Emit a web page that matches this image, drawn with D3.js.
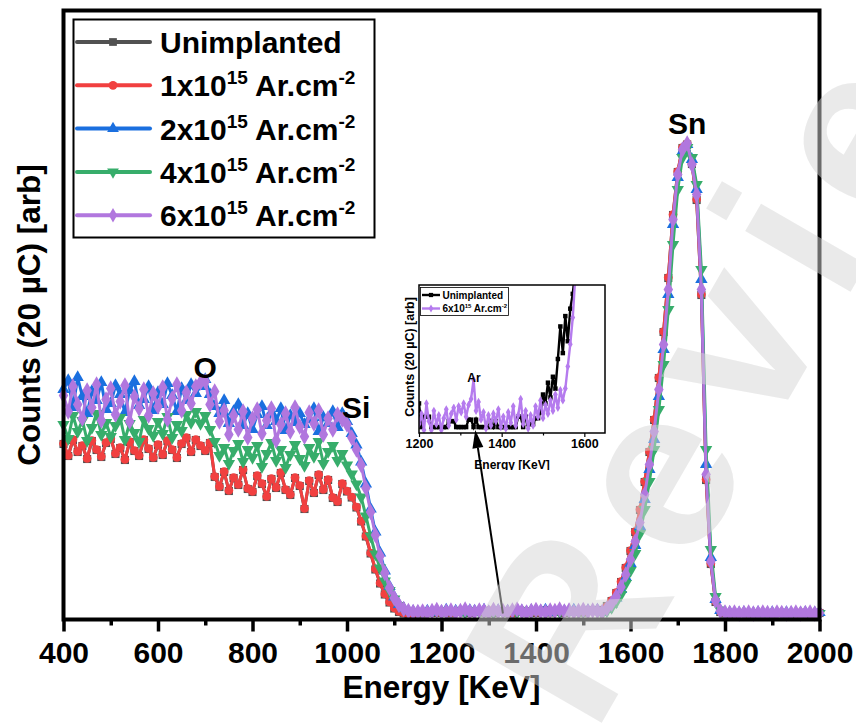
<!DOCTYPE html>
<html>
<head>
<meta charset="utf-8">
<script src="https://cdn.jsdelivr.net/npm/d3@7/dist/d3.min.js"></script>
<style>
  body { margin: 0; background: #fff; }
  svg { display: block; }
  text { font-family: "Liberation Sans", Arial, Helvetica, sans-serif; font-weight: bold; white-space: pre; }
</style>
</head>
<body>
<svg id="chart" width="856" height="726"></svg>
<script>
// RBS spectra, one channel every 10 keV from 400 to 2000 keV (counts, arbitrary units)
const energy = d3.range(400, 2001, 10);

const unimplanted = [
  1755,1635,1795,1675,1735,1605,1785,1695,1625,1765,
  1805,1655,1715,1595,1775,1685,1635,1795,1705,1615,
  1745,1645,1785,1695,1615,1755,1815,1675,1795,1735,
  1685,1765,1425,1325,1475,1285,1415,1345,1495,1305,
  1275,1435,1355,1225,1405,1315,1465,1295,1245,1415,
  1335,1105,1385,1265,1445,1295,1395,1215,1175,1355,
  1280,1220,1120,980,830,660,500,360,250,170,
  110,75,60,55,55,60,
  60,70,75,65,80,70,60,75,85,70,
  65,80,75,70,85,65,75,80,70,60,
  75,85,70,80,65,75,90,70,80,75,
  65,85,80,75,70,90,85,95,
  95,135,185,265,375,515,685,875,1095,1375,
  1675,1995,2415,2875,3415,4045,4475,4715,4750,4555,
  4195,3245,1395,555,175,75,60,
  60,60,65,65,60,60,60,65,60,60,
  65,65,60,60,60,65,60,60,65,65
];

const dose1 = [
  1760,1640,1800,1680,1740,1610,1790,1700,1630,1770,
  1810,1660,1720,1600,1780,1690,1640,1800,1710,1620,
  1750,1650,1790,1700,1620,1760,1820,1680,1800,1740,
  1690,1770,1430,1330,1480,1290,1420,1350,1500,1310,
  1280,1440,1360,1230,1410,1320,1470,1300,1250,1420,
  1340,1110,1390,1270,1450,1300,1400,1220,1180,1360,
  1285,1225,1125,985,835,665,505,365,255,175,
  115,80,65,60,60,65,
  65,75,80,70,85,75,65,80,90,75,
  70,85,80,75,90,70,80,85,75,65,
  80,90,75,85,70,80,95,75,85,80,
  70,90,85,80,75,95,85,90,
  90,130,190,270,380,520,690,880,1100,1380,
  1680,2000,2420,2880,3420,4050,4480,4720,4760,4560,
  4200,3250,1400,560,180,80,65,
  65,60,65,70,60,65,60,70,65,60,
  65,70,60,65,60,70,65,60,65,70
];

const dose2 = [
  2300,2390,2120,2420,2230,2060,2280,2190,2370,2100,
  2160,2340,2250,2070,2290,2380,2140,2200,2330,2090,
  2270,2150,2360,2240,2080,2310,2190,2350,2260,2330,
  2400,2250,2130,2060,2190,1960,2080,2150,1940,2060,
  1900,2050,2130,1940,2070,1980,2110,1890,2040,1970,
  2060,1950,2000,2110,1880,2020,1960,2080,1920,2060,
  1980,1860,1745,1575,1355,1105,875,665,485,330,
  225,150,110,85,80,75,
  75,85,70,90,80,95,75,85,80,70,
  90,85,80,95,75,80,90,70,85,80,
  95,85,75,90,80,85,95,70,80,90,
  85,75,95,80,85,90,80,95,
  70,100,150,215,300,420,560,740,930,1200,
  1500,1800,2230,2700,3250,3950,4420,4680,4750,4600,
  4300,3400,1550,620,200,90,70,
  70,60,65,70,60,65,70,60,65,70,
  60,65,70,65,60,65,70,60,65,70
];

const dose4 = [
  1950,1810,2040,1880,1990,1790,1920,2060,1850,1970,
  1830,1940,2020,1800,1960,1870,1780,2000,1910,1840,
  1980,1860,2030,1820,1950,1890,2050,1970,2080,1960,
  2040,1900,1780,1640,1720,1560,1690,1760,1580,1700,
  1620,1740,1530,1660,1770,1590,1700,1520,1650,1750,
  1610,1540,1720,1630,1780,1560,1680,1740,1590,1660,
  1545,1455,1355,1225,1035,835,655,515,385,290,
  205,140,100,85,75,70,
  70,80,75,85,70,90,80,75,85,70,
  80,90,75,80,85,70,90,75,80,85,
  70,80,90,75,85,80,70,90,80,75,
  85,80,90,75,80,85,90,80,
  60,85,120,175,250,360,490,660,860,1100,
  1380,1700,2100,2550,3100,3750,4300,4620,4720,4620,
  4350,3500,1700,700,230,95,70,
  60,65,70,60,65,60,70,65,60,65,
  70,60,65,60,70,65,60,65,70,60
];

const dose6 = [
  2240,2080,2330,2150,2010,2290,2120,2350,1990,2200,
  2310,2050,2180,2340,1980,2230,2110,2300,2040,2260,
  2130,2320,2000,2210,2350,2090,2270,2160,2330,2370,
  2380,2150,2280,1980,2090,1850,2040,1900,2080,1820,
  2010,2100,1860,1990,2110,1790,1950,2060,1880,2120,
  1930,1830,2070,1960,2090,1850,2010,1900,2050,2000,
  1950,1820,1700,1545,1315,1075,845,635,465,315,
  215,145,105,85,75,75,
  80,70,85,95,75,80,90,70,85,100,
  80,75,90,85,70,95,80,85,75,90,
  100,80,70,85,95,80,75,90,85,100,
  80,90,75,85,95,80,90,85,
  75,110,160,230,325,450,600,780,970,1250,
  1550,1880,2300,2750,3300,4000,4450,4700,4760,4550,
  4250,3300,1450,580,190,85,70,
  65,70,60,65,70,60,65,70,65,60,
  70,65,60,65,70,60,65,70,60,65
];

const seriesNames = ["Unimplanted", "1x10", "2x10", "4x10", "6x10"];
const seriesColors = ["#515151", "#F14040", "#1A6FDF", "#37AD6B", "#B177DE"];
const seriesSymbols = [d3.symbolSquare, d3.symbolCircle, d3.symbolTriangle, "triangleDown", d3.symbolDiamond];
const seriesValues = [unimplanted, dose1, dose2, dose4, dose6];

// Inset: zoom on the Ar region, one channel every 6 keV
const insetEnergy = d3.range(1200, 1585, 6);
const insetUnimplanted = [
  2.0,0.4,1.1,1.1,1.1,0.4,0.4,0.4,0.4,0.4,
  0.4,0.4,0.8,0.8,0.8,0.4,0.4,0.4,0.4,0.4,
  0.9,0.9,0.4,0.9,0.4,0.4,0.4,0.4,0.4,0.8,
  0.4,0.8,0.4,0.4,0.4,0.4,0.4,0.4,0.4,0.4,
  1.1,1.1,0.4,1.1,0.6,0.6,0.6,1.0,1.0,1.4,
  2.6,2.0,3.4,2.4,3.8,3.0,5.0,7.2,5.4,7.9,
  6.2,8.4,9.4,11.0,12.5
];
const insetDose6 = [
  0.6,1.3,0.2,2.0,0.8,0.2,1.5,0.6,1.2,0.2,
  1.0,1.6,0.5,1.3,1.7,0.9,1.8,1.4,2.0,1.1,
  1.9,2.3,3.6,1.5,2.1,0.9,1.4,0.3,1.2,0.5,
  1.3,0.8,1.6,0.4,1.1,0.3,1.4,0.7,1.8,0.5,
  1.2,2.3,0.6,1.5,0.3,1.2,0.5,1.8,1.1,2.2,
  1.0,1.9,1.3,2.2,1.5,2.6,1.7,2.9,2.2,3.0,
  4.5,6.0,7.8,10.5,12.5
];

const xTicks = [400, 600, 800, 1000, 1200, 1400, 1600, 1800, 2000];
const xMinorTicks = [500, 700, 900, 1100, 1300, 1500, 1700, 1900];
const insetTicks = [1200, 1400, 1600];
const insetMinorTicks = [1300, 1500];

const peaks = [
  { label: "O", energy: 700, counts: 2400 },
  { label: "Si", energy: 990, counts: 2000 },
  { label: "Sn", energy: 1720, counts: 4840 }
];

const svg = d3.select("#chart");
const x = d3.scaleLinear().domain([400, 2000]).range([63.5, 819.5]);
const y = d3.scaleLinear().domain([0, 6090]).range([619.5, 10.5]);

function symbolPath(sym, size) {
  return d3.symbol(sym === "triangleDown" ? d3.symbolTriangle : sym, size)();
}
function symbolTransform(sym) {
  return sym === "triangleDown" ? " rotate(180)" : "";
}

// Spectra: each series draws its line, then its symbols
const plot = svg.append("g");
seriesValues.forEach((vals, i) => {
  const pts = energy.map((e, k) => [e, vals[k]]);
  const g = plot.append("g");
  g.append("path")
    .datum(pts)
    .attr("fill", "none")
    .attr("stroke", seriesColors[i])
    .attr("stroke-width", 3)
    .attr("stroke-linejoin", "round")
    .attr("d", d3.line().x(d => x(d[0])).y(d => y(d[1])));
  const sym = seriesSymbols[i];
  const sz = sym === d3.symbolDiamond ? 78 : (sym === d3.symbolCircle ? 60 : 66);
  g.selectAll("path.m")
    .data(pts)
    .join("path")
    .attr("class", "m")
    .attr("fill", seriesColors[i])
    .attr("d", symbolPath(sym, sz))
    .attr("transform", d => `translate(${x(d[0])},${y(d[1])})${symbolTransform(sym)}`);
});

// Bottom axis with major and minor ticks
svg.append("g").attr("transform", "translate(0,619.5)")
  .call(d3.axisBottom(x).tickValues(xMinorTicks).tickSize(6).tickFormat(""))
  .call(g => g.select(".domain").remove())
  .call(g => g.selectAll("line").attr("stroke", "#000").attr("stroke-width", 3.5));
svg.append("g").attr("transform", "translate(0,619.5)")
  .call(d3.axisBottom(x).tickValues(xTicks).tickSize(12).tickPadding(10).tickFormat(d3.format("d")))
  .call(g => g.select(".domain").remove())
  .call(g => g.selectAll("line").attr("stroke", "#000").attr("stroke-width", 3.5))
  .call(g => g.selectAll("text").attr("fill", "#000").attr("font-size", 30)
    .attr("font-family", "Liberation Sans, Arial, sans-serif").attr("font-weight", "bold"));

// Frame
svg.append("rect")
  .attr("x", x(400)).attr("y", y(6090))
  .attr("width", x(2000) - x(400)).attr("height", y(0) - y(6090))
  .attr("fill", "none").attr("stroke", "#000").attr("stroke-width", 4);

// Axis titles
svg.append("text")
  .attr("x", (x(400) + x(2000)) / 2).attr("y", 698)
  .attr("text-anchor", "middle").attr("font-size", 31.5).attr("fill", "#000")
  .text("Energy [KeV]");
svg.append("text")
  .attr("transform", `translate(40,${(y(0) + y(6090)) / 2}) rotate(-90)`)
  .attr("text-anchor", "middle").attr("font-size", 31.5).attr("fill", "#000")
  .text("Counts (20 µC) [arb]");

// Peak labels
svg.selectAll("text.peak")
  .data(peaks)
  .join("text")
  .attr("class", "peak")
  .attr("x", d => x(d.energy) + (d.label === "Si" ? 14 : 0))
  .attr("y", d => y(d.counts) - 2)
  .attr("text-anchor", "middle").attr("font-size", 30).attr("fill", "#000")
  .text(d => d.label);

// Legend
const legend = svg.append("g");
legend.append("rect")
  .attr("x", 73.5).attr("y", 19.5).attr("width", 301).attr("height", 218)
  .attr("fill", "#fff").attr("stroke", "#000").attr("stroke-width", 2);
seriesNames.forEach((name, i) => {
  const cy = 42 + i * 43.3;
  legend.append("line")
    .attr("x1", 77).attr("x2", 150).attr("y1", cy).attr("y2", cy)
    .attr("stroke", seriesColors[i]).attr("stroke-width", 4).attr("stroke-linecap", "round");
  const sym = seriesSymbols[i];
  legend.append("path")
    .attr("fill", seriesColors[i])
    .attr("d", symbolPath(sym, 60))
    .attr("transform", `translate(113,${cy})${symbolTransform(sym)}`);
  const t = legend.append("text")
    .attr("x", 160).attr("y", cy + 11).attr("font-size", 30).attr("fill", "#000");
  if (i === 0) {
    t.text(name);
  } else {
    t.append("tspan").text(name);
    t.append("tspan").attr("dy", -12).attr("font-size", 19).text("15");
    t.append("tspan").attr("dy", 12).text(" Ar.cm");
    t.append("tspan").attr("dy", -12).attr("font-size", 19).text("-2");
  }
});

// Inset
const ix = d3.scaleLinear().domain([1200, 1650]).range([419, 605]);
const iy = d3.scaleLinear().domain([0, 10]).range([433, 285]);
const defs = svg.append("defs");
defs.append("clipPath").attr("id", "insetClip")
  .append("rect").attr("x", 419).attr("y", 285).attr("width", 186).attr("height", 148);
defs.append("clipPath").attr("id", "insetCut")
  .append("rect").attr("x", 380).attr("y", 270).attr("width", 240).attr("height", 200);

const insetAll = svg.append("g").attr("clip-path", "url(#insetCut)");
insetAll.append("rect")
  .attr("x", 400).attr("y", 280).attr("width", 216).attr("height", 195).attr("fill", "#fff");

const insetPlot = insetAll.append("g").attr("clip-path", "url(#insetClip)");
const insetSeries = [
  { vals: insetUnimplanted, color: "#000", sym: d3.symbolSquare },
  { vals: insetDose6, color: "#B57BEE", sym: d3.symbolDiamond }
];
insetSeries.forEach(s => {
  const pts = insetEnergy.map((e, k) => [e, s.vals[k]]);
  insetPlot.append("path").datum(pts)
    .attr("fill", "none").attr("stroke", s.color).attr("stroke-width", 2.4)
    .attr("d", d3.line().x(d => ix(d[0])).y(d => iy(d[1])));
  insetPlot.selectAll(null).data(pts).join("path")
    .attr("fill", s.color)
    .attr("d", d3.symbol(s.sym, 20)())
    .attr("transform", d => `translate(${ix(d[0])},${iy(d[1])})`);
});

insetAll.append("g").attr("transform", "translate(0,433)")
  .call(d3.axisBottom(ix).tickValues(insetMinorTicks).tickSize(2.5).tickFormat(""))
  .call(g => g.select(".domain").remove())
  .call(g => g.selectAll("line").attr("stroke", "#000").attr("stroke-width", 1.2));
insetAll.append("g").attr("transform", "translate(0,433)")
  .call(d3.axisBottom(ix).tickValues(insetTicks).tickSize(4).tickPadding(2).tickFormat(d3.format("d")))
  .call(g => g.select(".domain").remove())
  .call(g => g.selectAll("line").attr("stroke", "#000").attr("stroke-width", 1.2))
  .call(g => g.selectAll("text").attr("fill", "#000").attr("font-size", 12.5)
    .attr("font-family", "Liberation Sans, Arial, sans-serif").attr("font-weight", "bold"));

insetAll.append("rect")
  .attr("x", 419).attr("y", 285).attr("width", 186).attr("height", 148)
  .attr("fill", "none").attr("stroke", "#000").attr("stroke-width", 1.5);

insetAll.append("text")
  .attr("x", 512).attr("y", 469).attr("text-anchor", "middle")
  .attr("font-size", 12).attr("fill", "#000").text("Energy [KeV]");
insetAll.append("text")
  .attr("transform", "translate(414,357) rotate(-90)")
  .attr("text-anchor", "middle").attr("font-size", 12.5).attr("fill", "#000")
  .text("Counts (20 µC) [arb]");
insetAll.append("text")
  .attr("x", ix(1333)).attr("y", 382).attr("text-anchor", "middle")
  .attr("font-size", 12).attr("fill", "#000").text("Ar");

// Inset legend
const il = insetAll.append("g");
il.append("rect").attr("x", 420.5).attr("y", 287.5).attr("width", 88).attr("height", 28)
  .attr("fill", "#fff").attr("stroke", "#000").attr("stroke-width", 0.8);
insetSeries.forEach((s, i) => {
  const cy = 295 + i * 13.5;
  il.append("line").attr("x1", 422).attr("x2", 440).attr("y1", cy).attr("y2", cy)
    .attr("stroke", s.color).attr("stroke-width", 2.4);
  il.append("path").attr("fill", s.color).attr("d", d3.symbol(s.sym, 18)())
    .attr("transform", `translate(431,${cy})`);
  const t = il.append("text").attr("x", 442.5).attr("y", cy + 3.5).attr("font-size", 10).attr("fill", "#000");
  if (i === 0) {
    t.text("Unimplanted");
  } else {
    t.append("tspan").text("6x10");
    t.append("tspan").attr("dy", -4).attr("font-size", 6).text("15");
    t.append("tspan").attr("dy", 4).text(" Ar.cm");
    t.append("tspan").attr("dy", -4).attr("font-size", 6).text("-2");
  }
});

// Arrow from the main spectrum to the Ar signal in the inset
const ax0 = x(1330), ay0 = y(60);
const ax1 = ix(1336), ay1 = iy(0.2);
const ang = Math.atan2(ay1 - ay0, ax1 - ax0);
const headLen = 18, headHalf = 5.5;
const bx = ax1 - headLen * Math.cos(ang), by = ay1 - headLen * Math.sin(ang);
svg.append("line")
  .attr("x1", ax0).attr("y1", ay0).attr("x2", bx).attr("y2", by)
  .attr("stroke", "#000").attr("stroke-width", 2);
svg.append("path")
  .attr("fill", "#000")
  .attr("d", `M${ax1},${ay1}L${bx + headHalf * Math.sin(ang)},${by - headHalf * Math.cos(ang)}L${bx - headHalf * Math.sin(ang)},${by + headHalf * Math.cos(ang)}Z`);

// Review watermark
svg.append("text")
  .attr("transform", "translate(594,736) rotate(-60)")
  .attr("text-anchor", "start")
  .attr("font-size", 230)
  .attr("letter-spacing", 25)
  .attr("font-weight", "normal")
  .attr("fill", "#d6d6d6")
  .attr("fill-opacity", 0.5)
  .text("Review");
</script>
</body>
</html>
